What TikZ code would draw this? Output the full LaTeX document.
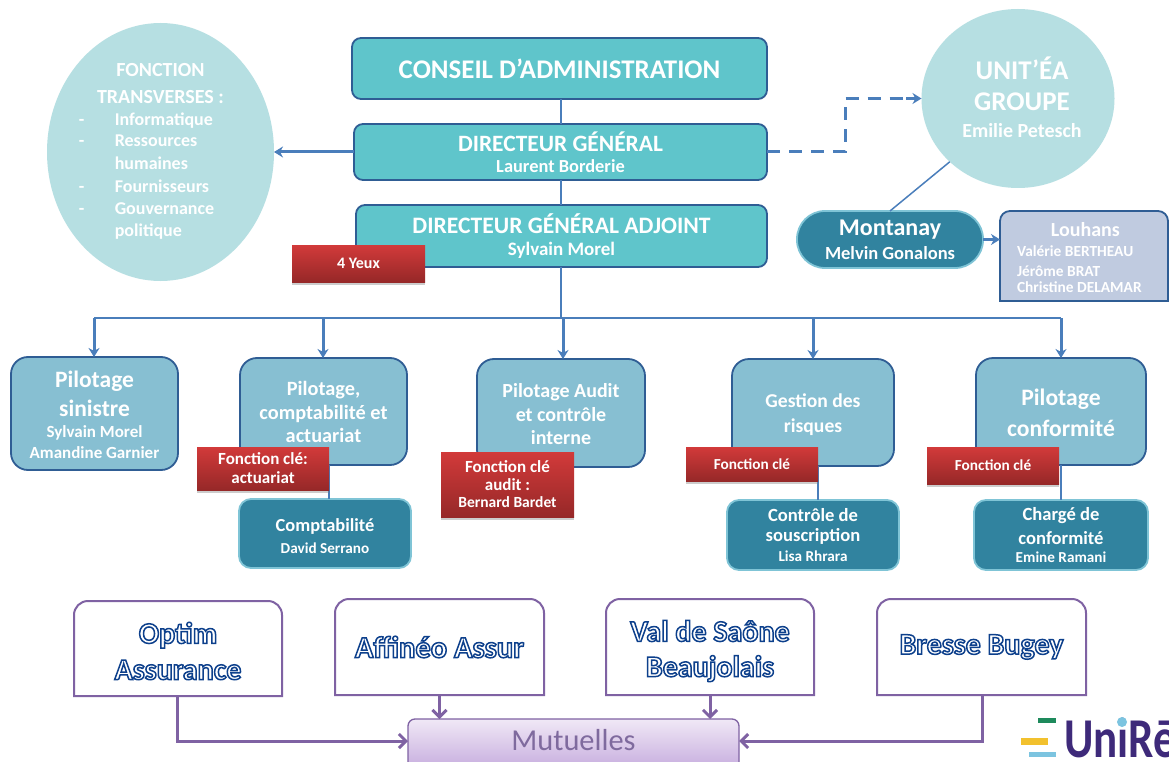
\documentclass[tikz,border=0pt]{standalone}
\usepackage{fontspec}
\setmainfont{Carlito}
\usetikzlibrary{shapes.geometric,shadows,arrows.meta,calc}
\definecolor{tealfill}{HTML}{5FC5CB}
\definecolor{bluebord}{HTML}{2F5D94}
\definecolor{conn}{HTML}{4A7EBB}
\definecolor{pilfill}{HTML}{87BFD2}
\definecolor{darkfill}{HTML}{31839F}
\definecolor{darkbord}{HTML}{7FC4D6}
\definecolor{palefill}{HTML}{B6DFE2}
\definecolor{louhfill}{HTML}{C0CBE0}
\definecolor{purpbord}{HTML}{7F62A3}
\definecolor{purptext}{HTML}{7F6A9E}
\definecolor{logopurple}{HTML}{3E2A7A}
\definecolor{redtop}{HTML}{D23A3A}
\definecolor{redbot}{HTML}{962828}
\definecolor{muttop}{HTML}{F0E8F6}
\definecolor{mutbot}{HTML}{C3A8DC}
\definecolor{logogreen}{HTML}{1E8A5C}
\definecolor{logoyellow}{HTML}{F2C12E}
\definecolor{logoblue}{HTML}{7CC4E0}
\newcommand{\fs}[1]{\fontsize{#1}{#1}\selectfont}
\newcommand{\ol}[1]{\special{pdf:code q 2 Tr 1.5 w 0.05 0.25 0.55 RG 1 1 1 rg}#1\special{pdf:code Q}}
\newcommand{\bx}[7]{\node[#2,minimum width={(#5-#3)*1pt},minimum height={(#6-#4)*1pt}] (#1) at ({(#3+#5)/2},{(#4+#6)/2}) {#7};}
\tikzset{
  base/.style={rectangle,outer sep=0pt,inner sep=0pt,align=center,text=white,font=\bfseries,line width=1.8pt},
  topbox/.style={base,draw=bluebord,fill=tealfill,rounded corners=9pt},
  pilbox/.style={base,draw=bluebord,fill=pilfill,rounded corners=17pt},
  subbox/.style={base,draw=darkbord,fill=darkfill,rounded corners=12pt},
  pillbox/.style={base,draw=darkbord,fill=darkfill,rounded corners=28pt},
  redbox/.style={base,line width=0pt,top color=redtop,bottom color=redbot,
     drop shadow={shadow xshift=0pt,shadow yshift=-3pt,opacity=.4}},
  conline/.style={conn,line width=1.5pt},
  busline/.style={conn,line width=2pt},
  conarrow/.style={conn,line width=3pt,-{Stealth[length=9pt,width=11pt]}},
  purparrow/.style={purpbord,line width=3pt,-{Straight Barb[length=7pt,width=14pt]}},
  pale/.style={ellipse,fill=palefill,outer sep=0pt,inner sep=0pt,align=center,text=white,font=\bfseries}
}
\begin{document}
\begin{tikzpicture}[x=1pt,y=-1pt]
\useasboundingbox (0,0) rectangle (1169,762);
\clip (0,0) rectangle (1169,762);
\fill[white] (0,0) rectangle (1169,762);
\coordinate (bus) at (561,318);
\coordinate (b1) at (94,318);
\coordinate (b2) at (323,318);
\coordinate (b3) at (563,318);
\coordinate (b4) at (813,318);
\coordinate (b5) at (1061,318);
\coordinate (dash1) at (845,152);
\coordinate (dash2) at (845,98.5);
\coordinate (dash3) at (906,98.5);
% top column
\bx{ca}{topbox}{352}{38}{767}{99}{\fs{26.9}CONSEIL D’ADMINISTRATION}
\bx{dg}{topbox}{354}{124}{767}{180}{\fs{23.4}DIRECTEUR GÉNÉRAL\\[7pt]\fs{18.4}Laurent Borderie}
\bx{dga}{topbox}{356}{205}{767}{267}{\fs{23.6}DIRECTEUR GÉNÉRAL ADJOINT\\[8pt]\fs{19}Sylvain Morel}
\node[pale,minimum width=227pt,minimum height=258pt] (ft) at (160.5,152) {%
  \makebox[0pt][c]{\begin{tabular}{@{}p{36pt}@{}l@{\hspace{28pt}}}
  \multicolumn{2}{c}{\fs{20}FONCTION}\\[10pt]
  \multicolumn{2}{c}{\fs{20}TRANSVERSES :}\\[6pt]
  \fs{18}-&\fs{18}Informatique\\[6pt]
  \fs{18}-&\fs{18}Ressources\\[6pt]
  &\fs{18}humaines\\[7pt]
  \fs{18}-&\fs{18}Fournisseurs\\[7pt]
  \fs{18}-&\fs{18}Gouvernance\\[6pt]
  &\fs{18}politique
  \end{tabular}}};
\node[pale,minimum width=193pt,minimum height=179pt] (ue) at (1018,98.5) {\makebox[0pt][c]{\begin{tabular}{@{\hspace{8pt}}c@{}}\fs{27}UNIT’ÉA\\[10pt]\fs{27}GROUPE\\[9pt]\fs{20}Emilie Petesch\end{tabular}}};
\bx{mo}{pillbox}{797}{211}{983}{268}{\fs{24}Montanay\\[6pt]\fs{18.5}Melvin Gonalons}
\bx{lo}{base}{1000}{211}{1168}{301}{}
\draw[bluebord,fill=louhfill,line width=1.8pt] (lo.south west) [rounded corners=10pt] -- (lo.north west) -- (lo.north east) [sharp corners] -- (lo.south east) -- cycle;
\node[base,anchor=north west] (lot) at (1017,222) {%
  \begin{tabular}{@{}l@{}}\multicolumn{1}{c}{\hspace*{12pt}\fs{20}Louhans}\\[6pt]\fs{15.4}Valérie BERTHEAU\\[6pt]\fs{15.4}Jérôme BRAT\\[1pt]\fs{15.4}Christine DELAMAR\end{tabular}};
% second row
\bx{ps}{pilbox}{11}{357}{178}{470}{}
\node[base] (pst) at (94.5,416.5) {\begin{tabular}{@{}c@{}}\fs{23.5}Pilotage\\[9pt]\fs{23.5}sinistre\\[5pt]\fs{17}Sylvain Morel\\[5pt]\fs{17}Amandine Garnier\end{tabular}};
\bx{pc}{pilbox}{240}{358}{407}{465}{}
\bx{pa}{pilbox}{477}{359}{645}{467}{}
\bx{gr}{pilbox}{732}{359}{894}{466}{}
\bx{pf}{pilbox}{976}{358}{1146}{465}{}
\node[base] (pct) at (323.5,412) {\fs{20.3}Pilotage,\\[5pt]\fs{20.3}comptabilité et\\[5pt]\fs{20.3}actuariat};
\node[base] (pat) at (561,414) {\fs{20}Pilotage Audit\\[6pt]\fs{20}et contrôle\\[8pt]\fs{20}interne};
\node[base] (grt) at (813,415) {\fs{19.6}Gestion des\\[10pt]\fs{19.6}risques};
\node[base] (pft) at (1061,413) {\fs{23.6}Pilotage\\[9pt]\fs{23.6}conformité};
% sub boxes
\bx{co}{subbox}{239}{499}{411}{568}{}
\node[base] (cot) at (325,536) {\fs{18.4}Comptabilité\\[7pt]\fs{15.2}David Serrano};
\bx{cs}{subbox}{727}{500}{899}{570}{\fs{18.6}Contrôle de\\[6pt]\fs{18.6}souscription\\[6pt]\fs{15.2}Lisa Rhrara}
\bx{cc}{subbox}{974}{500}{1148}{570}{\fs{18.6}Chargé de\\[6pt]\fs{18.6}conformité\\[6pt]\fs{15.2}Emine Ramani}
% connectors
\draw[conline] (ca.south -| 561,0) -- (dg.north -| 561,0);
\draw[conline] (dg.south -| 561,0) -- (dga.north -| 561,0);
\draw[conline] (dga.south -| 561,0) -- (bus);
\draw[busline] (b1) -- (b5);
\draw[conarrow] (b1) -- (ps.north -| b1);
\draw[conarrow] (b2) -- (pc.north -| b2);
\draw[conarrow] (b3) -- (pa.north -| b3);
\draw[conarrow] (b4) -- (gr.north -| b4);
\draw[conarrow] (b5) -- (pf.north -| b5);
\draw[conline] (329,465) -- (co.north -| 329,0);
\draw[conline] (818,466) -- (cs.north -| 818,0);
\draw[conline] (1061,465) -- (cc.north -| 1061,0);
\draw[conarrow] (dg.west) -- (ft.east);
\draw[conn,line width=3pt,dash pattern=on 13pt off 9pt] (dg.east) -- (dash1) -- (dash2) -- (dash3);
\draw[conarrow] (dash3) -- (ue.west);
\draw[conline] (mo.north) -- (ue.south west);
\draw[conarrow] (mo.east) -- (lo.west |- mo.east);
% red boxes
\bx{ry}{redbox}{292}{245}{425}{282}{\fs{16}4 Yeux}
\bx{ra}{redbox}{197}{447}{329}{490}{\fs{17}Fonction clé:\\[6pt]\fs{17}actuariat}
\bx{rb}{redbox}{441}{452}{574}{517}{\fs{17}Fonction clé\\[5pt]\fs{17}audit :\\[5pt]\fs{15.5}Bernard Bardet}
\bx{rg}{redbox}{686}{447}{818}{481}{\fs{15.3}Fonction clé}
\bx{rp}{redbox}{927}{447}{1059}{484}{\fs{15.3}Fonction clé}
% Mutuelles row
\node[base,minimum width=208pt,minimum height=95pt] (op) at (178,648.5) {};
\node[base,minimum width=209pt,minimum height=96pt] (af) at (439.5,647) {\fs{30.5}\ol{Affinéo Assur}};
\node[base,minimum width=208pt,minimum height=96pt] (va) at (710,647) {};
\node[base,minimum width=209pt,minimum height=96pt] (br) at (981.5,647) {\fs{30}\ol{Bresse Bugey}};
\node[base] (opt) at (178,651) {\fs{30}\ol{Optim}\\[11pt]\fs{30}\ol{Assurance}};
\node[base] (vat) at (710,651) {\fs{30}\ol{Val de Saône}\\[13pt]\fs{30}\ol{Beaujolais}};
\foreach \n in {op,af,va,br}{
  \draw[purpbord,line width=2pt] (\n.south west) [rounded corners=14pt] -- (\n.north west) -- (\n.north east) [sharp corners] -- (\n.south east) -- cycle;
}
\node[rectangle,draw=purpbord,line width=1.3pt,rounded corners=7pt,outer sep=0pt,top color=muttop,bottom color=mutbot,minimum width=331pt,minimum height=54pt,text=purptext,anchor=north] (mu) at (573.5,719) {\raisebox{12pt}{\fs{30.4}Mutuelles}};
\coordinate (mw) at (408,741);
\coordinate (me) at (739,741);
\coordinate (ob) at (177,696);
\coordinate (bb) at (982,695);
\draw[purparrow] (ob) -- (ob |- mw) -- (mw);
\draw[purparrow] (af.south) -- (af.south |- mu.north);
\draw[purparrow] (va.south) -- (va.south |- mu.north);
\draw[purparrow] (bb) -- (bb |- me) -- (me);
% logo
\fill[logogreen] (1038,718) rectangle (1056,723);
\fill[logoyellow] (1021,738) rectangle (1048,745);
\fill[logoblue] (1029,752) rectangle (1056,757);
\node[anchor=base west,inner sep=0pt,text=logopurple,font=\bfseries] (logo) at (1064,757) {\scalebox{1}[1.25]{\fs{45}UniRē}};
\fill[logoblue] (1122,722) circle (5);
\end{tikzpicture}
\end{document}
